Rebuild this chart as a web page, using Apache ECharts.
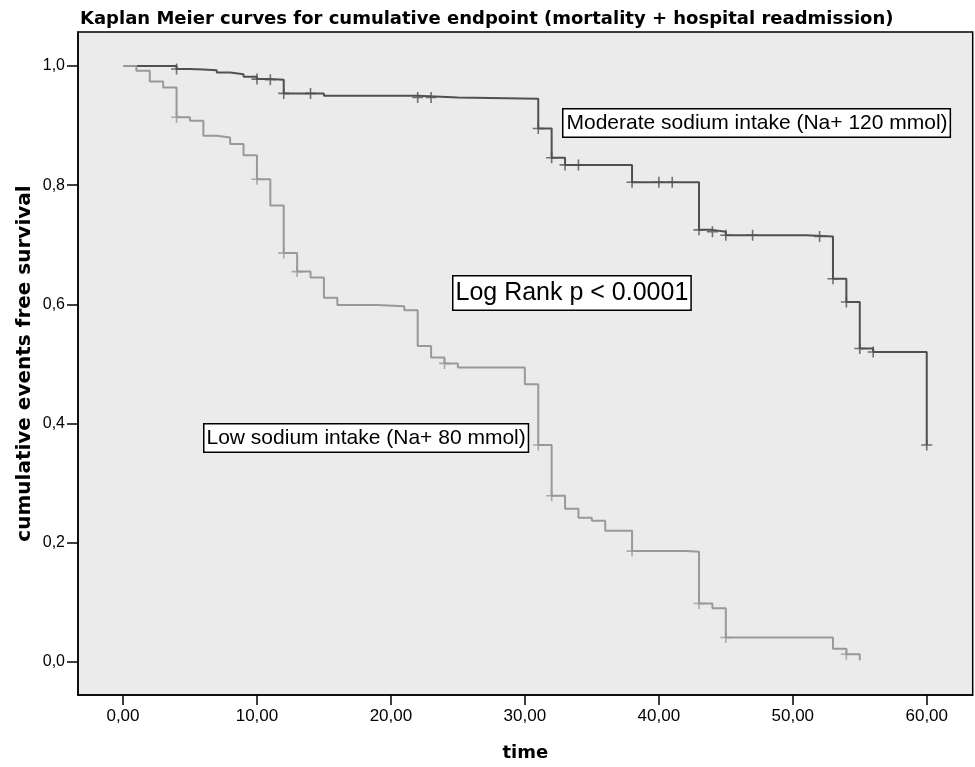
<!DOCTYPE html>
<html>
<head>
<meta charset="utf-8">
<title>Kaplan Meier curves</title>
<script src="https://cdn.jsdelivr.net/npm/echarts@6/dist/echarts.min.js"></script>
<style>
  html, body { margin: 0; padding: 0; background: #fff; }
  #km { width: 975px; height: 767px; }
</style>
</head>
<body>
<div id="km"></div>
<script>
// Moderate sodium intake (Na+ 120 mmol): time of each step and survival after it
const modTimes = [0, 4, 5, 6, 7, 8, 9, 10, 11, 12, 15, 22, 25, 31, 32, 33, 38, 43, 44, 45, 51, 53, 54, 55, 56, 60];
const modSurv = [1.0, 0.995, 0.994, 0.993, 0.989, 0.986, 0.982, 0.978, 0.977, 0.954, 0.950, 0.947, 0.945, 0.895, 0.846, 0.834, 0.805, 0.725, 0.722, 0.716, 0.714, 0.643, 0.604, 0.526, 0.520, 0.364];
const modCensored = [4, 10, 11, 12, 14, 22, 23, 31, 32, 33, 34, 38, 40, 41, 43, 44, 45, 47, 52, 53, 54, 55, 56, 60];

// Low sodium intake (Na+ 80 mmol)
const lowTimes = [0, 1, 2, 3, 4, 5, 6, 7, 8, 9, 10, 11, 12, 13, 14, 15, 16, 19, 21, 22, 23, 24, 25, 30, 31, 32, 33, 34, 35, 36, 38, 42, 43, 44, 45, 53, 54, 55];
const lowSurv = [1.0, 0.992, 0.974, 0.964, 0.914, 0.908, 0.883, 0.880, 0.869, 0.850, 0.810, 0.766, 0.686, 0.655, 0.645, 0.611, 0.599, 0.597, 0.590, 0.530, 0.511, 0.501, 0.494, 0.466, 0.364, 0.279, 0.257, 0.242, 0.237, 0.220, 0.186, 0.185, 0.098, 0.090, 0.041, 0.022, 0.013, 0.003];
const lowCensored = [4, 10, 12, 13, 24, 31, 32, 38, 43, 45, 54];

const xTicks = [0, 10, 20, 30, 40, 50, 60];
const yTicks = [0, 0.2, 0.4, 0.6, 0.8, 1.0];

// survival level of a step curve at time t (censor marks sit on the curve)
function survivalAt(times, surv, t) {
    let s = surv[0];
    for (let i = 0; i < times.length; i++) {
        if (times[i] <= t) s = surv[i];
    }
    return s;
}
const pairs = (xs, ys) => xs.map((x, i) => [x, ys[i]]);
const censorPoints = (cens, times, surv) => cens.map(t => [t, survivalAt(times, surv, t)]);

const plusMark = "path://M0,5L10,5M5,0L5,10";
const darkGrey = "#505050";
const lightGrey = "#999999";

const chart = echarts.init(document.getElementById("km"));

const option = {
    animation: false,
    title: {
        text: "Kaplan Meier curves for cumulative endpoint (mortality + hospital readmission)",
        left: 75,
        top: 5,
        textStyle: {
            fontFamily: "DejaVu Sans",
            fontWeight: "bold",
            fontSize: 18,
            color: "#000",
        },
    },
    grid: {
        left: 78,
        top: 32,
        right: 2.3,
        bottom: 72,
        outerBoundsMode: "none",
        show: true,
        backgroundColor: "#ebebeb",
        borderColor: "#000",
        borderWidth: 1.5,
    },
    xAxis: {
        type: "value",
        min: -3.358,
        max: 63.43,
        name: "time",
        nameLocation: "middle",
        nameGap: 49,
        nameMoveOverlap: false,
        nameTextStyle: {
            fontFamily: "DejaVu Sans",
            fontWeight: "bold",
            fontSize: 18,
            color: "#000",
        },
        axisLine: { show: true, onZero: false, lineStyle: { color: "#000", width: 1.5 } },
        axisTick: { show: true, length: 10, customValues: xTicks, lineStyle: { color: "#000", width: 1.5 } },
        axisLabel: {
            customValues: xTicks,
            margin: 13,
            fontFamily: "Liberation Sans",
            fontSize: 17,
            color: "#000",
            formatter: (v) => v.toFixed(2).replace(".", ","),
        },
        splitLine: { show: false },
    },
    yAxis: {
        type: "value",
        min: -0.0554,
        max: 1.057,
        name: "cumulative events free survival",
        nameLocation: "middle",
        nameGap: 43,
        nameMoveOverlap: false,
        nameTextStyle: {
            fontFamily: "DejaVu Sans",
            fontWeight: "bold",
            fontSize: 20,
            color: "#000",
        },
        axisLine: { show: true, onZero: false, lineStyle: { color: "#000", width: 1.5 } },
        axisTick: { show: true, length: 11, customValues: yTicks, lineStyle: { color: "#000", width: 1.5 } },
        axisLabel: {
            customValues: yTicks,
            margin: 13,
            fontFamily: "Liberation Sans",
            fontSize: 16,
            color: "#000",
            formatter: (v) => v.toFixed(1).replace(".", ","),
        },
        splitLine: { show: false },
    },
    series: [
        {
            name: "Moderate sodium intake",
            type: "line",
            step: "end",
            data: pairs(modTimes, modSurv),
            showSymbol: false,
            lineStyle: { color: darkGrey, width: 2 },
            z: 2,
        },
        {
            name: "Moderate censored",
            type: "scatter",
            data: censorPoints(modCensored, modTimes, modSurv),
            symbol: plusMark,
            symbolSize: [11, 11],
            itemStyle: { color: "none", borderColor: darkGrey, borderWidth: 1.6 },
            z: 2,
        },
        {
            name: "Low sodium intake",
            type: "line",
            step: "end",
            data: pairs(lowTimes, lowSurv),
            showSymbol: false,
            lineStyle: { color: lightGrey, width: 2 },
            z: 3,
        },
        {
            name: "Low censored",
            type: "scatter",
            data: censorPoints(lowCensored, lowTimes, lowSurv),
            symbol: plusMark,
            symbolSize: [11, 11],
            itemStyle: { color: "none", borderColor: lightGrey, borderWidth: 1.6 },
            z: 3,
        },
    ],
    graphic: [
        {
            type: "text",
            left: 562,
            top: 108,
            z: 10,
            style: {
                text: "Moderate sodium intake (Na+ 120 mmol)",
                font: "21px 'Liberation Sans'",
                fill: "#000",
                backgroundColor: "#fff",
                borderColor: "#000",
                borderWidth: 1.5,
                padding: [3, 2, 2, 3],
                lineHeight: 22,
            },
        },
        {
            type: "text",
            left: 203,
            top: 423,
            z: 10,
            style: {
                text: "Low sodium intake (Na+ 80 mmol)",
                font: "21px 'Liberation Sans'",
                fill: "#000",
                backgroundColor: "#fff",
                borderColor: "#000",
                borderWidth: 1.5,
                padding: [3, 2, 2, 2],
                lineHeight: 22,
            },
        },
        {
            type: "text",
            left: 452,
            top: 275,
            z: 10,
            style: {
                text: "Log Rank p < 0.0001",
                font: "25px 'Liberation Sans'",
                fill: "#000",
                backgroundColor: "#fff",
                borderColor: "#000",
                borderWidth: 1.5,
                padding: [4, 2, 3, 2],
                lineHeight: 26,
            },
        },
    ],
};

chart.setOption(option);
</script>
</body>
</html>
